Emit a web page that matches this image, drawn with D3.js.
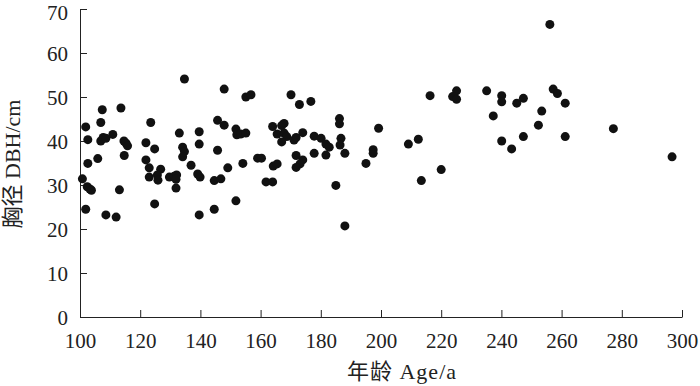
<!DOCTYPE html>
<html>
<head>
<meta charset="utf-8">
<script src="https://cdn.jsdelivr.net/npm/d3@7"></script>
<style>
  body { margin: 0; background: #fff; }
</style>
</head>
<body>
<div id="chart"></div>
<script>
// age (a) and DBH (cm)
const ages = [
  101.9, 102.6, 102.6, 100.8, 102.4, 103.3, 103.8, 101.9, 107.4, 106.9,
  106.9, 107.7, 108.6, 110.9, 105.9, 108.6, 112.0, 113.1, 113.6, 114.6,
  115.3, 115.8, 114.7, 123.5, 121.9, 124.8, 121.9, 123.0, 126.8, 123.0,
  125.7, 125.9, 129.7, 124.8, 134.7, 147.9, 155.1, 156.8, 145.7, 147.9,
  133.0, 139.6, 151.8, 152.1, 153.4, 155.1, 134.1, 134.7, 134.1, 139.6,
  145.7, 136.9, 131.3, 132.1, 131.9, 131.9, 139.1, 139.9, 144.6, 146.8,
  149.1, 154.1, 159.0, 160.3, 161.8, 164.0, 164.2, 165.5, 151.8, 144.6,
  139.6, 170.1, 172.9, 176.7, 186.2, 186.2, 199.2, 164.0, 167.8, 167.0,
  165.5, 167.8, 168.7, 167.0, 171.1, 171.8, 174.0, 177.8, 180.1, 181.7,
  182.8, 186.7, 186.4, 177.8, 181.7, 188.0, 171.8, 174.0, 173.1, 171.8,
  195.0, 197.4, 197.4, 185.0, 188.0, 216.3, 225.1, 223.8, 225.1, 235.1,
  240.1, 240.1, 245.1, 247.3, 237.3, 253.4, 252.3, 256.1, 257.2, 258.6,
  261.2, 261.2, 247.3, 240.1, 243.4, 277.2, 296.7, 209.1, 212.4, 220.0,
  213.4
];
const dbh = [
  43.2, 40.3, 34.9, 31.4, 29.6, 29.1, 28.8, 24.5, 47.1, 44.2,
  40.0, 40.8, 40.6, 41.5, 36.0, 23.2, 22.7, 28.9, 47.5, 40.0,
  39.5, 38.9, 36.7, 44.2, 39.6, 38.2, 35.7, 33.9, 33.6, 31.8,
  32.3, 31.1, 31.8, 25.7, 54.1, 51.8, 50.0, 50.5, 44.7, 43.6,
  41.8, 42.1, 42.7, 41.4, 41.6, 41.8, 38.6, 37.6, 36.4, 39.3,
  37.9, 34.5, 32.0, 32.3, 31.3, 29.3, 32.5, 31.8, 31.0, 31.4,
  33.9, 34.9, 36.1, 36.1, 30.7, 30.7, 34.3, 34.8, 26.4, 24.5,
  23.2, 50.5, 48.3, 49.0, 45.1, 43.9, 42.9, 43.3, 44.0, 43.5,
  41.6, 41.8, 41.0, 39.8, 40.2, 40.8, 41.9, 41.1, 40.6, 39.3,
  38.6, 40.6, 39.1, 37.2, 36.8, 37.2, 36.7, 35.7, 34.8, 34.0,
  34.9, 38.0, 37.2, 29.9, 20.7, 50.3, 51.4, 50.1, 49.5, 51.4,
  50.3, 48.9, 48.6, 49.7, 45.7, 46.8, 43.6, 66.5, 51.8, 50.8,
  48.6, 41.0, 41.0, 40.0, 38.2, 42.8, 36.4, 39.3, 40.4, 33.5,
  31.0
];
const xTicks = [100, 120, 140, 160, 180, 200, 220, 240, 260, 280, 300];
const yTicks = [0, 10, 20, 30, 40, 50, 60, 70];

const data = ages.map((a, i) => ({age: a, dbh: dbh[i]}));

const margin = {top: 9, right: 18, bottom: 69, left: 80},
  width = 700 - margin.left - margin.right,
  height = 386 - margin.top - margin.bottom;

const font = "'Liberation Serif', 'Times New Roman', 'Noto Sans CJK SC', serif";

const svg = d3.select("#chart")
  .append("svg")
  .attr("width", width + margin.left + margin.right)
  .attr("height", height + margin.top + margin.bottom)
  .append("g")
  .attr("transform", `translate(${margin.left},${margin.top})`);

const x = d3.scaleLinear().domain([100, 300]).range([0, width]);
const y = d3.scaleLinear().domain([0, 70]).range([height, 0]);

// X axis, ticks pointing inward
const gx = svg.append("g")
  .attr("transform", `translate(0,${height})`)
  .call(d3.axisBottom(x)
    .tickValues(xTicks)
    .tickSizeInner(-7)
    .tickSizeOuter(0)
    .tickPadding(16));

// Y axis
const gy = svg.append("g")
  .call(d3.axisLeft(y)
    .tickValues(yTicks)
    .tickSizeInner(-7)
    .tickSizeOuter(0)
    .tickPadding(12));

[gx, gy].forEach(g => {
  g.selectAll("path, line").attr("stroke", "#222").attr("stroke-width", 1);
  g.selectAll("text")
    .style("font-family", font)
    .style("font-size", "21px")
    .attr("fill", "#222");
});
// top label sits against the page edge; nudge it down a little
gy.selectAll("text").attr("dy", d => d === 70 ? "0.5em" : "0.36em");

// Axis labels
svg.append("text")
  .attr("x", 322)
  .attr("y", height + 62)
  .attr("text-anchor", "middle")
  .style("font-family", font)
  .style("font-size", "22px")
  .style("letter-spacing", "1px")
  .attr("fill", "#222")
  .text("年龄 Age/a");

svg.append("text")
  .attr("transform", "rotate(-90)")
  .attr("x", -(height / 2) - 1)
  .attr("y", -margin.left + 20)
  .attr("text-anchor", "middle")
  .style("font-family", font)
  .style("font-size", "22px")
  .attr("fill", "#222")
  .text("胸径 DBH/cm");

// Points
svg.selectAll("circle")
  .data(data)
  .enter()
  .append("circle")
  .attr("cx", d => x(d.age))
  .attr("cy", d => y(d.dbh))
  .attr("r", 4.5)
  .attr("fill", "#111");
</script>
</body>
</html>
